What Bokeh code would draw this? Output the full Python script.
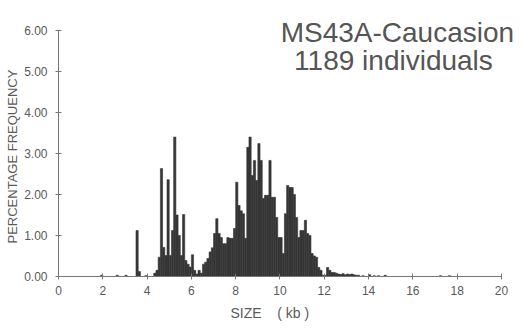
from bokeh.plotting import figure
from bokeh.models import Range1d, FixedTicker, Title
from bokeh.core.properties import value
from bokeh.embed import file_html
from bokeh.resources import INLINE

# bin left edges (kb, 0.1 kb bins) and percentage frequency
size_kb = [1.9, 2.6, 3.0, 3.5, 3.6, 3.9, 4.3, 4.4, 4.5, 4.6, 4.7, 4.8, 4.9,
           5.0, 5.1, 5.2, 5.3, 5.4, 5.5, 5.6, 5.7, 5.8, 5.9, 6.0, 6.1, 6.2,
           6.3, 6.4, 6.5, 6.6, 6.7, 6.8, 6.9, 7.0, 7.1, 7.2, 7.3, 7.4, 7.5,
           7.6, 7.7, 7.8, 7.9, 8.0, 8.1, 8.2, 8.3, 8.4, 8.5, 8.6, 8.7, 8.8,
           8.9, 9.0, 9.1, 9.2, 9.3, 9.4, 9.5, 9.6, 9.7, 9.8, 9.9, 10.0, 10.1,
           10.2, 10.3, 10.4, 10.5, 10.6, 10.7, 10.8, 10.9, 11.0, 11.1, 11.2,
           11.3, 11.4, 11.5, 11.6, 11.7, 11.8, 11.9, 12.0, 12.1, 12.2, 12.3,
           12.4, 12.5, 12.6, 12.7, 12.8, 12.9, 13.0, 13.1, 13.2, 13.3, 13.4,
           13.5, 13.7, 14.0, 14.2, 14.4, 14.7, 17.2, 17.6]
freq_pct = [0.03, 0.03, 0.03, 1.12, 0.12, 0.02, 0.08, 0.15, 0.47, 2.63, 0.71, 0.51, 2.36,
            0.51, 1.12, 3.40, 1.50, 1.00, 0.51, 1.51, 0.39, 0.30, 0.23, 0.53, 0.15, 0.06,
            0.15, 0.08, 0.30, 0.35, 0.44, 0.60, 0.70, 1.05, 1.41, 1.05, 0.95, 0.80, 0.80,
            0.95, 0.93, 0.93, 1.17, 2.30, 1.73, 1.60, 1.53, 0.93, 3.15, 3.40, 2.46, 2.83,
            2.34, 3.24, 2.83, 1.90, 1.98, 1.98, 2.83, 1.93, 1.93, 1.44, 0.95, 0.95, 0.56,
            1.53, 2.22, 2.17, 2.17, 2.00, 1.44, 0.95, 1.12, 1.12, 1.37, 1.05,
            1.00, 0.56, 0.50, 0.47, 0.22, 0.15, 0.03, 0.03, 0.22, 0.15, 0.10,
            0.10, 0.08, 0.06, 0.05, 0.07, 0.04, 0.06, 0.05, 0.06, 0.04, 0.03,
            0.03, 0.02, 0.04, 0.02, 0.02, 0.03, 0.02, 0.02]
bin_width = 0.1

x_ticks = [0, 2, 4, 6, 8, 10, 12, 14, 16, 18, 20]
y_ticks = [0, 1, 2, 3, 4, 5, 6]
title_lines = ["MS43A-Caucasion", "1189  individuals"]
x_label = "SIZE\u00a0\u00a0\u00a0\u00a0( kb )"
y_label = "PERCENTAGE FREQUENCY"

FONT = "'Liberation Sans', Arial, sans-serif"
GREY = "#5a5a5a"
BAR = "#353535"

p = figure(width=522, height=329, output_backend="svg", toolbar_location=None,
           x_range=Range1d(0, 20.68), y_range=Range1d(0, 6.68),
           min_border_left=57, min_border_right=6, min_border_top=2,
           min_border_bottom=53)
p.outline_line_color = None
p.grid.visible = False
p.background_fill_color = "white"

centers = [s + bin_width / 2 for s in size_kb]
p.vbar(x=centers, top=freq_pct, width=bin_width, bottom=0,
       fill_color=BAR, line_color=BAR, line_width=0.6)

for ax in (p.xaxis[0], p.yaxis[0]):
    ax.axis_line_color = "#777777"
    ax.major_tick_line_color = "#777777"
    ax.major_tick_in = 3
    ax.major_tick_out = 3
    ax.minor_tick_line_color = None
    ax.major_label_text_color = GREY
    ax.major_label_text_font = FONT
    ax.major_label_text_font_size = "12px"

p.xaxis.bounds = (0, 20)
p.yaxis.bounds = (0, 6)
p.xaxis.ticker = FixedTicker(ticks=x_ticks)
p.yaxis.ticker = FixedTicker(ticks=y_ticks)
p.xaxis.major_label_overrides = {t: str(t) for t in x_ticks}
p.yaxis.major_label_overrides = {t: f"{t:.2f}" for t in y_ticks}
p.xaxis.major_label_standoff = 6
p.yaxis.major_label_standoff = 8

# axis titles as side titles, offset so they centre on the drawn axis extent
p.add_layout(Title(text=x_label, align="left", offset=172, standoff=11,
                   text_font=FONT, text_font_size="14px",
                   text_font_style="normal", text_color=GREY), "below")
p.add_layout(Title(text=y_label, align="left", offset=33, standoff=4,
                   text_font=FONT, text_font_size="13px",
                   text_font_style="normal", text_color=GREY), "left")

p.text(x=[15.3, 15.3], y=[5.95, 5.27], text=title_lines,
       text_align="center", text_baseline="alphabetic",
       text_font=value(FONT), text_font_size="28px", text_color="#555555")

open("out.html", "w").write(file_html(p, INLINE))
